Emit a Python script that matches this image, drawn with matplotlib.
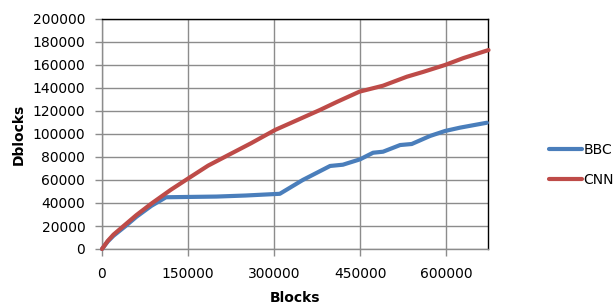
import matplotlib
matplotlib.use("Agg")
import matplotlib.pyplot as plt

bbc_x = [0, 10000, 20000, 40000, 60000, 86000, 111600, 200000, 250000, 310000, 350000,
         397700, 420000, 450000, 472600, 490000, 519800, 540000, 572000, 598000, 624000, 671000]
bbc_y = [0, 6500, 11500, 19500, 28000, 37500, 45000, 45600, 46500, 48000, 60000,
         72200, 73300, 78000, 83700, 84600, 90400, 91300, 98300, 102600, 105500, 109800]

cnn_x = [0, 10000, 20000, 40000, 60000, 86700, 120000, 152300, 185000, 220300, 260000,
         301700, 340000, 380000, 410000, 448800, 490000, 531500, 560000, 598000, 630000, 673900]
cnn_y = [0, 7000, 12500, 21000, 29500, 39700, 51500, 62000, 72500, 81700, 92000,
         103500, 112000, 120900, 128000, 136800, 142000, 149800, 154000, 160000, 166000, 173000]

x_ticks = [0, 150000, 300000, 450000, 600000]
y_ticks = list(range(0, 200001, 20000))

plt.rcParams['font.family'] = ['DejaVu Sans']

fig = plt.figure(figsize=(6.16, 3.08), dpi=100)
ax = fig.add_axes([102/616, 1-249/308, (488-102)/616, (249-19)/308])

ax.plot(bbc_x, bbc_y, color='#4A7EBB', lw=3.0, label='BBC', solid_capstyle='round',
        solid_joinstyle='round', clip_on=False, zorder=3)
ax.plot(cnn_x, cnn_y, color='#BE4B48', lw=3.0, label='CNN', solid_capstyle='round',
        solid_joinstyle='round', clip_on=False, zorder=4)

ax.set_xlim(0, 673000)
ax.set_ylim(0, 200000)
ax.set_xticks(x_ticks)
ax.set_yticks(y_ticks)
ax.set_xticklabels([str(v) for v in x_ticks], fontsize=10)
ax.set_yticklabels([str(v) for v in y_ticks], fontsize=10)
ax.grid(True, color='#8c8c8c', lw=1.0)
ax.set_axisbelow(True)
ax.tick_params(axis='both', length=5, width=1, color='#8c8c8c')
ax.tick_params(axis='y', pad=7)
ax.tick_params(axis='x', pad=8)
ax.spines['left'].set_color('#8c8c8c')
ax.spines['bottom'].set_color('#8c8c8c')
ax.spines['top'].set_color('black')
ax.spines['right'].set_color('black')
for s in ax.spines.values():
    s.set_linewidth(1.0)

ax.set_xlabel('Blocks', fontsize=10, fontweight='bold', labelpad=7)
ax.set_ylabel('Dblocks', fontsize=10, fontweight='bold', labelpad=5)

fig.legend(loc='center left', bbox_to_anchor=(536/616, 1-165/308), frameon=False,
           fontsize=10, handlelength=2.4, handletextpad=0.1, labelspacing=1.2)

fig.savefig('out.png', dpi=100)
